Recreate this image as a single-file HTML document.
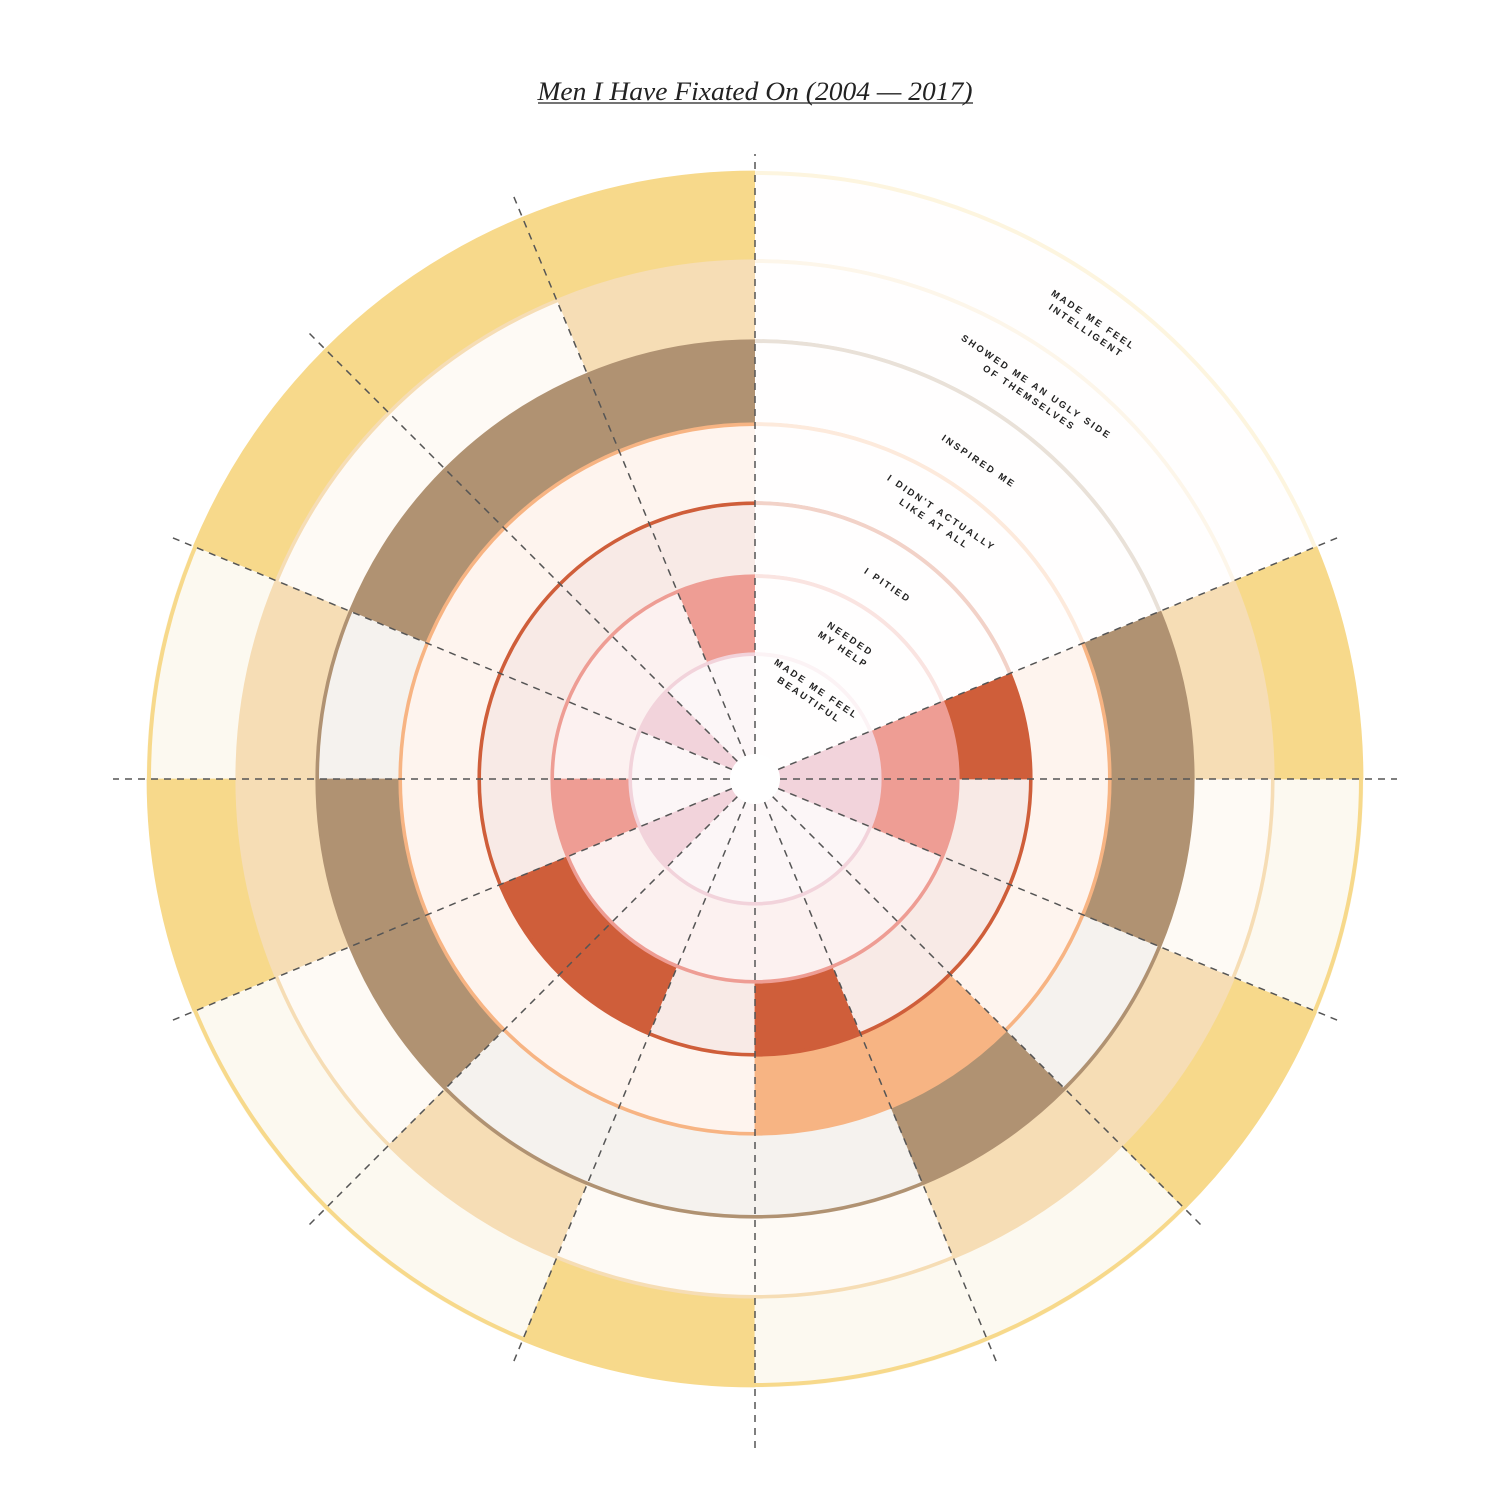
<!DOCTYPE html>
<html><head><meta charset="utf-8"><style>
html,body{margin:0;padding:0;background:#fff;width:1500px;height:1505px;overflow:hidden}
</style></head><body>
<svg id="s" width="1500" height="1505" xmlns="http://www.w3.org/2000/svg">
<text x="755" y="100" text-anchor="middle" font-family="Liberation Serif, serif" font-style="italic" font-size="26" fill="#222" textLength="435" lengthAdjust="spacingAndGlyphs">Men I Have Fixated On (2004 — 2017)</text>
<line x1="538" y1="103" x2="973" y2="103" stroke="#222" stroke-width="1.3"/>
<g id="g"></g>
</svg>
<script>
const cx=755,cy=779;
const rings=[
 [20,127,'#F2D3DB','#FCF6F7','CFLM'],
 [127,205,'#EE9D94','#FCF1F0','AELM'],
 [205,278,'#CF5E3A','#F8EAE6','FGIM'],
 [278,357,'#F7B483','#FEF4EE','IJ'],
 [357,440,'#B09272','#F5F2EE','ABCEFJLM'],
 [440,520,'#F6DDB5','#FEFAF5','ADEGJKM'],
 [520,608,'#F7D98B','#FCF9F0','ABCEHKM']
];
const names='ABCDEFGHIJKLM';
function secRange(i){ if(i===12) return [0,22.5]; return [90+22.5*i,112.5+22.5*i]; }
function pt(r,a){const t=a*Math.PI/180;return [cx+r*Math.cos(t),cy-r*Math.sin(t)];}
function wedge(r0,r1,a0,a1){
 const p1=pt(r1,a0),p2=pt(r1,a1),p3=pt(r0,a1),p4=pt(r0,a0);
 const lg=(a1-a0)>180?1:0;
 return `M${p1} A${r1},${r1} 0 ${lg} 0 ${p2} L${p3} A${r0},${r0} 0 ${lg} 1 ${p4} Z`;
}
let h='';
for(const [r0,r1,sc,lc,ss] of rings){
 for(let i=0;i<13;i++){
  const [a0,a1]=secRange(i);
  h+=`<path d="${wedge(r0,r1,a0,a1)}" fill="${ss.includes(names[i])?sc:lc}" stroke="${ss.includes(names[i])?sc:lc}" stroke-width="0.8"/>`;
 }
 h+=`<path d="${wedge(r0,r1-4,22.5,90)}" fill="#FEFCFA"/>`;
 h+=`<circle cx="${cx}" cy="${cy}" r="${r1-2}" fill="none" stroke="${sc}" stroke-width="4"/>`;
}
h+=`<path d="${wedge(20,612,22.5,90)}" fill="#fff" fill-opacity="0.72"/>`;
h+=`<circle cx="${cx}" cy="${cy}" r="25" fill="#fff"/>`;
const angs=[0,22.5,90,112.5,135,157.5,180,202.5,225,247.5,270,292.5,315,337.5];
for(const a of angs){
 let R=632; if(a===90) R=625; if(a===270) R=672; if(a===0||a===180) R=642;
 const p0=pt(25,a),p1=pt(R,a);
 h+=`<line x1="${p0[0]}" y1="${p0[1]}" x2="${p1[0]}" y2="${p1[1]}" stroke="#555" stroke-width="1.5" stroke-dasharray="7,6"/>`;
}
const labels=[
 [813,694,['MADE ME FEEL','BEAUTIFUL']],
 [847,644,['NEEDED','MY HELP']],
 [888,585,['I PITIED']],
 [938,518,["I DIDN'T ACTUALLY",'LIKE AT ALL']],
 [979,461,['INSPIRED ME']],
 [1033,392,['SHOWED ME AN UGLY SIDE','OF THEMSELVES']],
 [1090,325,['MADE ME FEEL','INTELLIGENT']]
];
for(const [x,y,ls] of labels){
 const n=ls.length;
 h+=`<g transform="translate(${x},${y}) rotate(34)">`;
 ls.forEach((l,j)=>{
  const dy=(j-(n-1)/2)*13+3.5;
  h+=`<text x="0" y="${dy}" text-anchor="middle" font-family="Liberation Sans, sans-serif" font-size="9.5" font-weight="bold" letter-spacing="2.3" fill="#222">${l}</text>`;
 });
 h+='</g>';
}
document.getElementById('g').innerHTML=h;
</script>
</body></html>
